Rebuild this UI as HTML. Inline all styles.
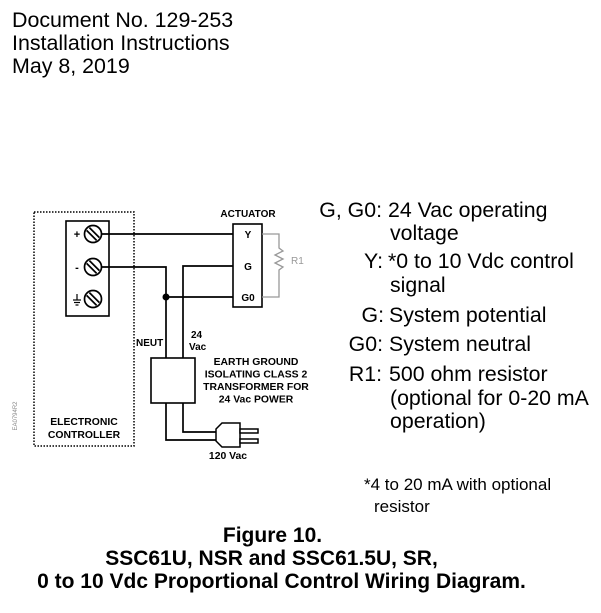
<!DOCTYPE html>
<html>
<head>
<meta charset="utf-8">
<style>
  html, body { margin:0; padding:0; background:#fff; }
  body { width:601px; height:613px; overflow:hidden; }
  svg { display:block; }
  text { font-family: "Liberation Sans", Arial, sans-serif; fill:#000; }
  .b { font-weight:bold; }
</style>
</head>
<body>
<svg width="601" height="613" viewBox="0 0 601 613" xmlns="http://www.w3.org/2000/svg">
  <!-- Header -->
  <text x="12" y="27" font-size="21.4">Document No. 129-253</text>
  <text x="12" y="50" font-size="21.4">Installation Instructions</text>
  <text x="12" y="73" font-size="21.4">May 8, 2019</text>

  <!-- Electronic controller dotted box -->
  <rect x="34" y="212" width="100" height="234" fill="none" stroke="#000" stroke-width="1.5" stroke-dasharray="1.5 1.5"/>

  <!-- Terminal block -->
  <rect x="66" y="221" width="43" height="95" fill="#fff" stroke="#000" stroke-width="1.6"/>

  <!-- Screws -->
  <g fill="none" stroke="#000" stroke-width="1.7">
    <circle cx="93" cy="234" r="8.5" fill="#fff"/>
    <line x1="89.4" y1="227.6" x2="99.4" y2="237.6"/>
    <line x1="86.6" y1="230.4" x2="96.6" y2="240.4"/>
    <circle cx="93" cy="267" r="8.5" fill="#fff"/>
    <line x1="89.4" y1="260.6" x2="99.4" y2="270.6"/>
    <line x1="86.6" y1="263.4" x2="96.6" y2="273.4"/>
    <circle cx="93" cy="299" r="8.5" fill="#fff"/>
    <line x1="89.4" y1="292.6" x2="99.4" y2="302.6"/>
    <line x1="86.6" y1="295.4" x2="96.6" y2="305.4"/>
  </g>
  <!-- Signs -->
  <text x="77" y="238" font-size="11" class="b" text-anchor="middle">+</text>
  <text x="77" y="271" font-size="11" class="b" text-anchor="middle">-</text>
  <g stroke="#000" stroke-width="1.2">
    <line x1="77" y1="294" x2="77" y2="300"/>
    <line x1="73" y1="300" x2="81" y2="300"/>
    <line x1="74" y1="302.5" x2="80" y2="302.5"/>
    <line x1="75.5" y1="305" x2="78.5" y2="305"/>
  </g>

  <!-- Actuator -->
  <rect x="233" y="224" width="29" height="83" fill="#fff" stroke="#000" stroke-width="1.6"/>
  <text x="248" y="217" font-size="10" class="b" text-anchor="middle">ACTUATOR</text>
  <text x="248" y="238" font-size="10" class="b" text-anchor="middle">Y</text>
  <text x="248" y="270" font-size="10" class="b" text-anchor="middle">G</text>
  <text x="248" y="301" font-size="10" class="b" text-anchor="middle">G0</text>

  <!-- R1 resistor (gray) -->
  <path d="M262,234 H279 V248 L283,251 L275,255 L283,259 L275,263 L283,267 L279,270 V297 H262" fill="none" stroke="#999" stroke-width="1.3"/>
  <text x="291" y="264" font-size="10" fill="#999" style="fill:#999">R1</text>

  <!-- Wires -->
  <g fill="none" stroke="#000" stroke-width="1.7">
    <path d="M101,234 H233"/>
    <path d="M102,267 H166 V358"/>
    <path d="M166,297 H233"/>
    <path d="M233,266 H183 V358"/>
    <path d="M166,403 V440 H219"/>
    <path d="M183,403 V432 H216"/>
  </g>
  <circle cx="166" cy="297" r="3.5" fill="#000"/>

  <!-- Transformer -->
  <rect x="151" y="358" width="44" height="45" fill="#fff" stroke="#000" stroke-width="1.6"/>

  <!-- Plug -->
  <g fill="#fff" stroke="#000" stroke-width="1.5">
    <path d="M216,429 L222,423 H240 V447 H222 L216,441 Z"/>
    <rect x="240" y="429" width="18" height="4"/>
    <rect x="240" y="439" width="18" height="4"/>
  </g>

  <!-- Diagram labels -->
  <text x="136" y="346" font-size="10" class="b">NEUT</text>
  <text x="191" y="338" font-size="10" class="b">24</text>
  <text x="189" y="350" font-size="10" class="b">Vac</text>
  <g font-size="10.4" class="b" text-anchor="middle">
    <text x="256" y="365" class="b">EARTH GROUND</text>
    <text x="256" y="377.5" class="b">ISOLATING CLASS 2</text>
    <text x="256" y="390" class="b">TRANSFORMER FOR</text>
    <text x="256" y="402.5" class="b">24 Vac POWER</text>
  </g>
  <text x="228" y="459" font-size="10.4" class="b" text-anchor="middle">120 Vac</text>
  <text x="84" y="425" font-size="10.4" class="b" text-anchor="middle">ELECTRONIC</text>
  <text x="84" y="438" font-size="10.4" class="b" text-anchor="middle">CONTROLLER</text>
  <text x="0" y="0" font-size="6" fill="#888" style="fill:#888" text-anchor="middle" transform="translate(17,416) rotate(-90)">EA0794R2</text>

  <!-- Right legend -->
  <g font-size="21.3">
    <text x="382" y="217" text-anchor="end">G, G0:</text>
    <text x="388" y="217">24 Vac operating</text>
    <text x="390" y="240">voltage</text>
    <text x="383" y="268" text-anchor="end">Y:</text>
    <text x="388" y="268">*0 to 10 Vdc control</text>
    <text x="390" y="292">signal</text>
    <text x="384" y="322" text-anchor="end">G:</text>
    <text x="389" y="322">System potential</text>
    <text x="383" y="351" text-anchor="end">G0:</text>
    <text x="389" y="351">System neutral</text>
    <text x="382" y="381" text-anchor="end">R1:</text>
    <text x="389" y="381">500 ohm resistor</text>
    <text x="390" y="405">(optional for 0-20 mA</text>
    <text x="390" y="428">operation)</text>
  </g>
  <text x="364" y="490" font-size="17">*4 to 20 mA with optional</text>
  <text x="374" y="512" font-size="17">resistor</text>

  <!-- Caption -->
  <g font-size="21" class="b" text-anchor="middle">
    <text x="272.5" y="542" class="b">Figure 10.</text>
    <text x="271.5" y="565" class="b">SSC61U, NSR and SSC61.5U, SR,</text>
    <text x="281.5" y="588" class="b">0 to 10 Vdc Proportional Control Wiring Diagram.</text>
  </g>
</svg>
</body>
</html>
